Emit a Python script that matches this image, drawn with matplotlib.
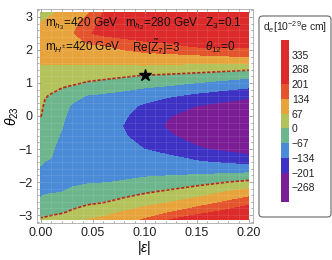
import numpy as np
import matplotlib.pyplot as plt
from matplotlib.patches import FancyBboxPatch

plt.rcParams['font.family'] = ['Liberation Sans', 'DejaVu Sans']
plt.rcParams['mathtext.fontset'] = 'custom'
plt.rcParams['mathtext.rm'] = 'Liberation Sans'
plt.rcParams['mathtext.it'] = 'Liberation Sans:italic'
plt.rcParams['mathtext.bf'] = 'Liberation Sans:bold'

# grid nodes
eps_nodes = [0.0, 0.004, 0.01, 0.02, 0.03, 0.045, 0.06, 0.08, 0.1, 0.12, 0.15, 0.2]
theta_nodes = [-3.1416, -2.9, -2.6, -2.3, -2.0, -1.7, -1.4, -1.0, -0.6, -0.3, 0.0,
               0.3, 0.6, 0.9, 1.2, 1.5, 1.8, 2.1, 2.5, 2.85, 3.1416]

# d_e [1e-29 e cm] along theta_nodes, one list per |eps| column
de_eps_0000 = [8, -25, -62, -72, -73, -71, -65, -45, -25, -10, 1, 8, 17, 28, 45, 64, 82, 97, 98, 67, 45]
de_eps_0004 = [12, -22, -55, -71, -73, -70, -68, -55, -40, -28, -16, -7, 3, 20, 42, 63, 82, 98, 100, 72, 50]
de_eps_0010 = [18, -15, -52, -70, -74, -72, -69, -63, -52, -42, -30, -18, -5, 14, 39, 63, 84, 100, 105, 85, 60]
de_eps_0020 = [30, -8, -45, -68, -76, -80, -80, -78, -72, -64, -55, -42, -22, 5, 33, 62, 85, 103, 112, 95, 75]
de_eps_0030 = [45, 8, -26, -58, -76, -84, -88, -92, -93, -92, -86, -75, -46, -3, 30, 62, 88, 108, 125, 110, 90]
de_eps_0045 = [70, 35, -14, -46, -72, -86, -95, -102, -105, -105, -101, -92, -73, -21, 23, 62, 90, 117, 195, 160, 125]
de_eps_0060 = [80, 46, -4, -37, -70, -88, -98, -108, -115, -117, -113, -103, -80, -34, 17, 62, 92, 125, 218, 218, 200]
de_eps_0080 = [110, 70, 19, -25, -63, -85, -100, -118, -130, -136, -128, -115, -90, -48, 5, 61, 100, 150, 232, 240, 225]
de_eps_0100 = [140, 95, 42, -7, -52, -82, -104, -135, -160, -170, -160, -145, -109, -59, -8, 60, 108, 172, 242, 256, 248]
de_eps_0120 = [195, 120, 60, 9, -43, -82, -110, -150, -190, -205, -195, -170, -126, -69, -14, 55, 112, 182, 248, 268, 262]
de_eps_0150 = [250, 173, 93, 36, -22, -82, -127, -193, -228, -240, -230, -203, -153, -91, -26, 47, 120, 204, 258, 282, 278]
de_eps_0200 = [290, 250, 175, 94, 15, -73, -156, -235, -280, -290, -275, -240, -190, -123, -54, 33, 135, 210, 270, 300, 295]

columns = [de_eps_0000, de_eps_0004, de_eps_0010, de_eps_0020, de_eps_0030, de_eps_0045,
           de_eps_0060, de_eps_0080, de_eps_0100, de_eps_0120, de_eps_0150, de_eps_0200]

levels = [-335, -268, -201, -134, -67, 0, 67, 134, 201, 268, 335, 402]
band_colors = ['#7B1E96', '#7B1E96', '#3D32C4', '#4A8AD6', '#6DB58D', '#B3C25A',
               '#E8A43C', '#E4552E', '#DD2B2B', '#DD2B2B', '#DD2B2B']
cbar_ticks = [335, 268, 201, 134, 67, 0, -67, -134, -201, -268]
star_eps, star_theta = 0.1, 1.25

eps = np.array(eps_nodes)
theta = np.array(theta_nodes)
Z = np.array(columns, dtype=float).T

fig = plt.figure(figsize=(3.32, 2.6), dpi=100)

# legend box drawn first so the colour bar sits on top of it
box = FancyBboxPatch((259 / 332, 1 - 217 / 260), 72 / 332, 201 / 260,
                     boxstyle='round,pad=0,rounding_size=0.012',
                     transform=fig.transFigure, facecolor='white',
                     edgecolor='#666666', lw=0.8, zorder=-5)
fig.add_artist(box)

ax = fig.add_axes([36.5 / 332, 1 - 223 / 260, 216 / 332, 214 / 260])

cf = ax.contourf(eps, theta, Z, levels=levels, colors=band_colors)
ax.contour(eps, theta, Z, levels=[0], colors='#B3261E', linewidths=1.2,
           linestyles=[(0, (2, 1))])

# faint mesh like the original rendering
for x in np.arange(0.01, 0.2, 0.01):
    ax.vlines(x, -np.pi, np.pi, color='white', alpha=0.12, lw=0.5)
for y in np.arange(-3.0, 3.01, 0.2):
    ax.hlines(y, 0, 0.2, color='white', alpha=0.12, lw=0.5)

ax.plot(star_eps, star_theta, marker='*', color='black', ms=9, ls='none')

ax.set_xlim(-0.0043, 0.2034)
ax.set_ylim(-3.24, 3.24)
ax.set_xticks([0, 0.05, 0.1, 0.15, 0.2])
ax.set_xticklabels(['0.00', '0.05', '0.10', '0.15', '0.20'])
ax.set_yticks([-3, -2, -1, 0, 1, 2, 3])
ax.set_xticks(np.arange(0, 0.201, 0.01), minor=True)
ax.set_yticks(np.arange(-3.2, 3.21, 0.2), minor=True)
ax.tick_params(which='both', direction='in', top=True, right=True, color='#999999',
               width=0.6, labelsize=9, labelcolor='#222222', pad=3)
ax.tick_params(which='major', length=3)
ax.tick_params(which='minor', length=1.5)
for s in ax.spines.values():
    s.set_color('#aaaaaa')
    s.set_linewidth(0.6)

ax.set_xlabel(r'$|\epsilon|$', fontsize=10, va='center')
ax.xaxis.set_label_coords(0.5, -0.117)
ax.set_ylabel(r'$\theta_{23}$', fontsize=10, va='center')
ax.yaxis.set_label_coords(-0.112, 0.5)

tkw = dict(fontsize=8.5, va='center', color='#111111')
ax.text(0.004, 2.79, r'm$_{h_3}$=420 GeV', **tkw)
ax.text(0.081, 2.79, r'm$_{h_2}$=280 GeV', **tkw)
ax.text(0.158, 2.79, r'Z$_3$=0.1', **tkw)
ax.text(0.004, 2.09, r'm$_{H^{\pm}}$=420 GeV', **tkw)
ax.text(0.088, 2.09, r'Re[$\mathregular{\tilde{Z}_7}$]=3', **tkw)
ax.text(0.158, 2.09, r'$\theta_{12}$=0', **tkw)

fig.text(295 / 332, 1 - 27 / 260, r'd$_e$[10$^{-29}$e cm]', ha='center', va='center',
         fontsize=7.5, color='#222222')
cax = fig.add_axes([281 / 332, 1 - 202 / 260, 8 / 332, 162 / 260])
cb = fig.colorbar(cf, cax=cax, ticks=cbar_ticks)
cb.outline.set_visible(False)
cax.tick_params(length=0, labelsize=7.5, pad=2, labelcolor='#222222')

fig.savefig('out.png', dpi=100)
